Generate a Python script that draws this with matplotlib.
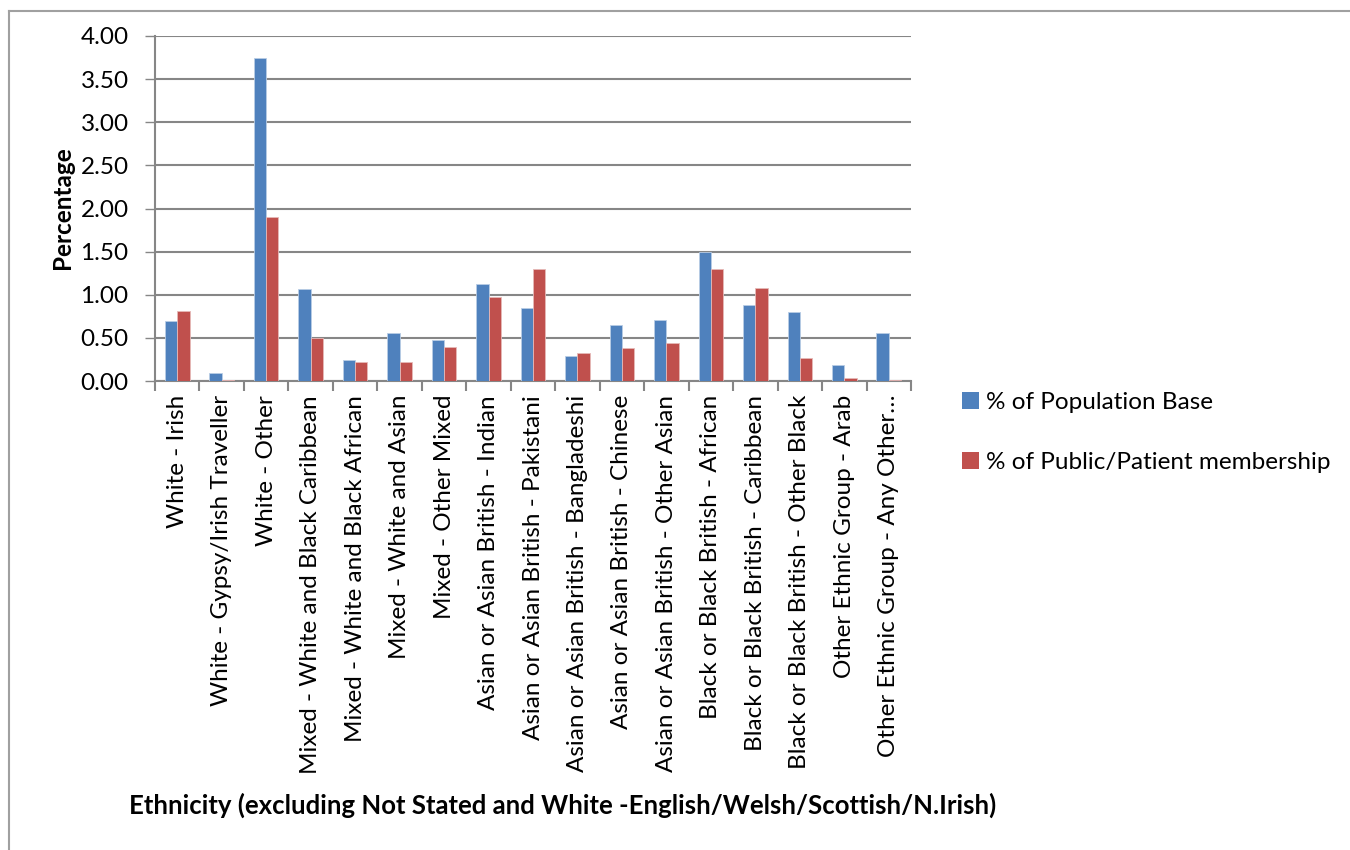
import numpy as np
import matplotlib.pyplot as plt
from matplotlib.lines import Line2D
from matplotlib.patches import Patch

plt.rcParams['font.family'] = ['Lato', 'DejaVu Sans']

categories = ['White - Irish', 'White - Gypsy/Irish Traveller', 'White - Other',
              'Mixed - White and Black Caribbean', 'Mixed - White and Black African',
              'Mixed - White and Asian', 'Mixed - Other Mixed',
              'Asian or Asian British - Indian', 'Asian or Asian British - Pakistani',
              'Asian or Asian British - Bangladeshi', 'Asian or Asian British - Chinese',
              'Asian or Asian British - Other Asian', 'Black or Black British - African',
              'Black or Black British - Caribbean', 'Black or Black British - Other Black',
              'Other Ethnic Group - Arab', 'Other Ethnic Group - Any Other\u2026']
population = [0.69, 0.09, 3.75, 1.07, 0.24, 0.56, 0.47, 1.12, 0.85, 0.29, 0.65,
              0.71, 1.50, 0.88, 0.80, 0.19, 0.56]
membership = [0.81, 0.01, 1.90, 0.50, 0.22, 0.22, 0.40, 0.97, 1.30, 0.32, 0.38,
              0.44, 1.30, 1.08, 0.27, 0.04, 0.01]
yticks = [0.0, 0.5, 1.0, 1.5, 2.0, 2.5, 3.0, 3.5, 4.0]

blue = '#4F81BD'
red = '#C0504D'
grey = '#868686'
fs = 17.5

fig = plt.figure(figsize=(13.5, 8.5), dpi=100)
ax = fig.add_axes([155/1350, 1-381/850, 756/1350, 345/850])

x = np.arange(len(categories))
w = 0.277
ax.bar(x - w/2, population, w, color=blue, edgecolor='#B9CDE5', linewidth=0.6, zorder=3)
ax.bar(x + w/2, membership, w, color=red, edgecolor='#E6B9B8', linewidth=0.6, zorder=3)

ax.set_xlim(-0.5, len(categories) - 0.5)
ax.set_ylim(0, 4)
ax.set_yticks(yticks)
ax.set_yticklabels(['%.2f' % v for v in yticks], fontsize=fs)
ax.yaxis.grid(True, color=grey, linewidth=1.5, zorder=0)
ax.tick_params(axis='y', length=7, width=1, color=grey, pad=12)

ax.set_xticks(x)
ax.set_xticklabels(categories, rotation=90, fontsize=fs, va='top')
ax.tick_params(axis='x', length=0, pad=10)
ax.set_xticks(np.arange(-0.5, len(categories)), minor=True)
ax.tick_params(axis='x', which='minor', length=7, width=1.5, color=grey)

for s in ['top', 'right']:
    ax.spines[s].set_visible(False)
for s in ['left', 'bottom']:
    ax.spines[s].set_color(grey)
    ax.spines[s].set_linewidth(1.5)

fig.text(62/1350, 1-208/850, 'Percentage', rotation=90, fontsize=fs,
         fontweight='bold', ha='center', va='center')
fig.text(563/1350, 1-805/850,
         'Ethnicity (excluding Not Stated and White -English/Welsh/Scottish/N.Irish)',
         fontsize=18.5, fontweight='bold', ha='center', va='center')

handles = [Patch(facecolor=blue), Patch(facecolor=red)]
fig.legend(handles, ['% of Population Base', '% of Public/Patient membership'],
           loc='upper left', bbox_to_anchor=(962/1350, 1-392/850), frameon=False,
           fontsize=fs, handlelength=0.7, handleheight=0.7, handletextpad=0.3,
           labelspacing=1.6, borderaxespad=0, borderpad=0)

# chart frame along the left and top edges
fig.add_artist(Line2D([9/1350, 9/1350], [0, 1-11/850], color='#A0A0A0', linewidth=1.5))
fig.add_artist(Line2D([9/1350, 1], [1-11/850, 1-11/850], color='#A0A0A0', linewidth=1.5))

fig.savefig('out.png', dpi=100)
